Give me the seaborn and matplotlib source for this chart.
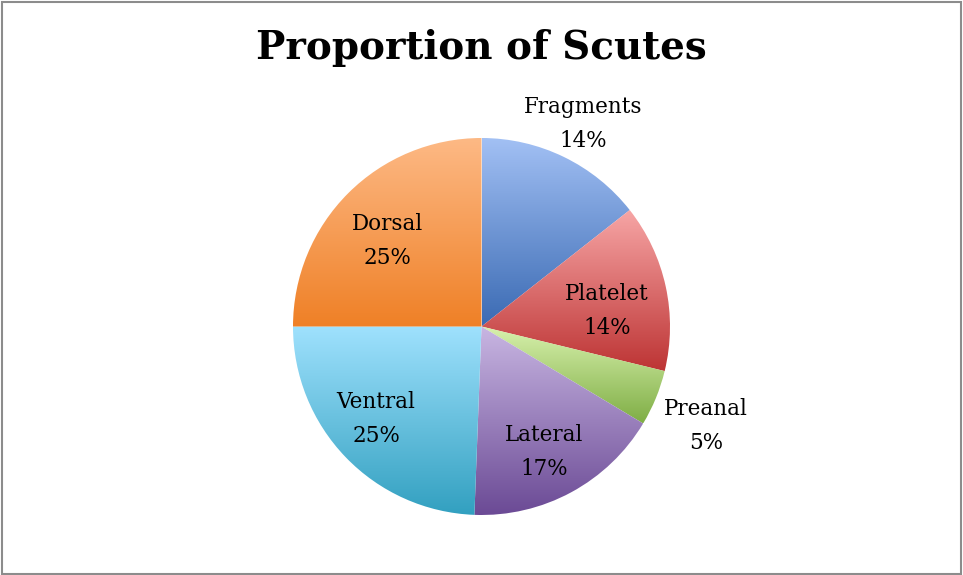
import numpy as np
import matplotlib
matplotlib.use("Agg")
import matplotlib.pyplot as plt
import seaborn as sns
from matplotlib.colors import LinearSegmentedColormap
from matplotlib.patches import Rectangle

sns.set_theme(style="white")
plt.rcParams['font.family'] = ['DejaVu Serif']

categories = ["Fragments", "Platelet", "Preanal", "Lateral", "Ventral", "Dorsal"]
values = [14.4, 14.4, 4.8, 17.0, 24.4, 25.0]
pct_labels = ["14%", "14%", "5%", "17%", "25%", "25%"]
top_colors = ["#a2c0f4", "#f7a6a6", "#d8f1ad", "#c8b6e2", "#9fe1fd", "#fdb985"]
bottom_colors = ["#3a6ab3", "#bd3434", "#7fae45", "#6b4a95", "#32a0c0", "#ef8026"]

W, H = 963, 575
fig = plt.figure(figsize=(W / 100, H / 100), dpi=100)
fig.patch.set_facecolor("white")

cx, cy, R = 481.5, 326.5, 188.5
ax = fig.add_axes([(cx - R) / W, (H - cy - R) / H, 2 * R / W, 2 * R / H])
wedges, _ = ax.pie(values, startangle=90, counterclock=False, radius=1.0,
                   wedgeprops=dict(linewidth=0))
ax.set_aspect("equal")
ax.axis("off")

grad = np.linspace(0, 1, 256).reshape(-1, 1)
for w, tc, bc in zip(wedges, top_colors, bottom_colors):
    t1, t2 = np.deg2rad(w.theta1), np.deg2rad(w.theta2)
    ang = np.linspace(t1, t2, 200)
    xs = np.concatenate([[0], np.cos(ang)])
    ys = np.concatenate([[0], np.sin(ang)])
    cmap = LinearSegmentedColormap.from_list("g", [tc, bc])
    w.set_facecolor("none")
    im = ax.imshow(grad, cmap=cmap, aspect="auto", origin="upper",
                   extent=[xs.min(), xs.max(), ys.min(), ys.max()], zorder=1)
    im.set_clip_path(w)

ax.set_xlim(-1, 1)
ax.set_ylim(-1, 1)

# label positions (pixel layout)
label_px = [(583, 124), (607, 311), (706, 426), (544, 452), (376, 419), (387, 241)]
for (px, py), cat, p in zip(label_px, categories, pct_labels):
    fig.text(px / W, 1 - py / H, f"{cat}\n{p}", ha="center", va="center",
             fontsize=15.5, color="black", linespacing=1.65)

fig.text(481 / W, 1 - 48 / H, "Proportion of Scutes", ha="center", va="center",
         fontsize=28, fontweight="bold", color="black")

# outer frame
fig.patches.append(Rectangle((1.5 / W, 1.5 / H), (W - 3.5) / W, (H - 3) / H,
                             transform=fig.transFigure, fill=False,
                             edgecolor="#8c8c8c", linewidth=1.5))

fig.savefig("out.png", dpi=100)
